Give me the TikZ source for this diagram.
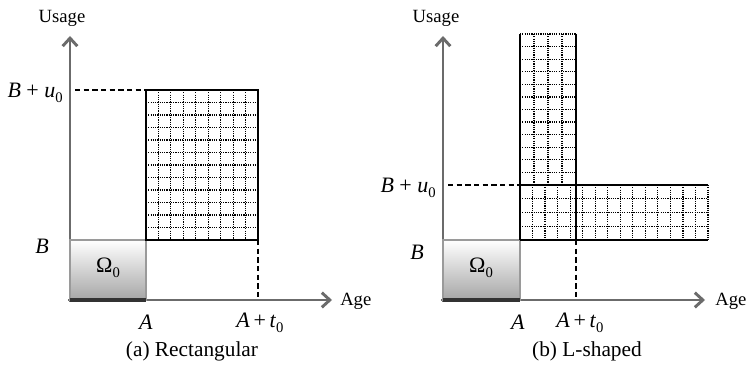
\documentclass[tikz,border=0pt]{standalone}
\usepackage{fontspec}
\setmainfont{Liberation Serif}
\usetikzlibrary{arrows.meta}
\newcommand\lowsub[1]{\raisebox{-0.5ex}{\fontsize{11}{11}\selectfont #1}}
\definecolor{axisgray}{HTML}{6B6B6B}
\definecolor{boxgray}{HTML}{9A9A9A}
\begin{document}
\begin{tikzpicture}[x=0.75pt,y=-0.75pt,
  axis/.style={draw=axisgray, line width=2.2pt, -{Straight Barb[length=6pt,width=11pt]}},
  gridline/.style={line width=0.9pt, dash pattern=on 0.9pt off 0.8pt},
  border/.style={line width=1.5pt},
  dashline/.style={line width=0.8pt, dash pattern=on 4pt off 2.5pt},
  omegabox/.style={draw=boxgray, line width=1.4pt, top color=white, middle color=white, bottom color=black!35},
  lbl/.style={inner sep=0pt, font=\fontsize{14}{15}\selectfont},
  mlbl/.style={inner sep=0pt, font=\fontsize{16.5}{17}\selectfont},
  captext/.style={inner sep=0pt, font=\fontsize{16}{17}\selectfont}]
\useasboundingbox (0,0) rectangle (746,366);

% ---------- (a) Rectangular ----------
\coordinate (o1) at (70,300);
\coordinate (ytip1) at (70,36);
\coordinate (xtip1) at (332,300);
\coordinate (ybase1) at (70,302);
\coordinate (xbase1) at (68,300);
\coordinate (om1tl) at (70,240);
\coordinate (om1br) at (146,300);
\coordinate (r1tl) at (146,90);
\coordinate (r1br) at (258,240);
\coordinate (d1a) at (75,90);
\coordinate (d1b) at (258,300);

\draw[axis] (ybase1) -- (ytip1);
\draw[axis] (xbase1) -- (xtip1);
\path[omegabox] (om1tl) rectangle (om1br);
\draw[line width=2.4pt, black!80] (o1) -- (om1br);

\foreach \i in {0,...,9} \draw[gridline] ({146+\i*112/9},90) -- ++(0,150);
\foreach \j in {0,...,12} \draw[gridline] (146,{90+\j*12.5}) -- ++(112,0);
\draw[border] (r1tl) rectangle (r1br);
\draw[dashline] (d1a) -- (r1tl);
\draw[dashline] (r1br) -- (d1b);

\node[lbl] (usage1) at (62,18) {Usage};
\node[lbl, anchor=west] (age1) at (340,301) {Age};
\node[mlbl, anchor=east] (bu1) at (63,93) {\textit{B} + \textit{u}\lowsub{0}};
\node[mlbl] (b1) at (42,246) {\textit{B}};
\node[mlbl] (om1) at (108,268) {Ω\lowsub{0}};
\node[mlbl] (a1) at (146,322) {\textit{A}};
\node[mlbl] (at1) at (260,323) {\textit{A}\,+\,\textit{t}\lowsub{0}};
\node[captext] (cap1) at (192,351) {(a) Rectangular};

% ---------- (b) L-shaped ----------
\coordinate (o2) at (443,300);
\coordinate (ytip2) at (443,36);
\coordinate (xtip2) at (705,300);
\coordinate (ybase2) at (443,302);
\coordinate (xbase2) at (441,300);
\coordinate (om2tl) at (443,240);
\coordinate (om2br) at (520,300);
\coordinate (vtl) at (520,34);
\coordinate (vbl) at (520,240);
\coordinate (vtr) at (576,34);
\coordinate (vbr) at (576,240);
\coordinate (htl) at (520,185);
\coordinate (htr) at (708,185);
\coordinate (hbr) at (708,240);
\coordinate (d2a) at (448,185);
\coordinate (d2b) at (576,300);

\draw[axis] (ybase2) -- (ytip2);
\draw[axis] (xbase2) -- (xtip2);
\path[omegabox] (om2tl) rectangle (om2br);
\draw[line width=2.4pt, black!80] (o2) -- (om2br);

\foreach \i in {0,...,4} \draw[gridline] ({520+\i*14},34) -- ++(0,151);
\foreach \j in {0,...,12} \draw[gridline] (520,{34+\j*151/12}) -- ++(56,0);
\foreach \i in {0,...,15} \draw[gridline] ({520+\i*188/15},185) -- ++(0,55);
\foreach \j in {0,...,4} \draw[gridline] (520,{185+\j*13.75}) -- ++(188,0);
\draw[border] (vtl) -- (vbl);
\draw[border] (vtr) -- (vbr);
\draw[border] (htl) -- (htr);
\draw[border] (vbl) -- (hbr);
\draw[dashline] (d2a) -- (htl);
\draw[dashline] (vbr) -- (d2b);

\node[lbl] (usage2) at (436,18) {Usage};
\node[lbl, anchor=west] (age2) at (715,301) {Age};
\node[mlbl, anchor=east] (bu2) at (436,188) {\textit{B} + \textit{u}\lowsub{0}};
\node[mlbl] (b2) at (417,252) {\textit{B}};
\node[mlbl] (om2) at (481,268) {Ω\lowsub{0}};
\node[mlbl] (a2) at (518,322) {\textit{A}};
\node[mlbl] (at2) at (580,323) {\textit{A}\,+\,\textit{t}\lowsub{0}};
\node[captext] (cap2) at (587,351) {(b) L-shaped};
\end{tikzpicture}
\end{document}
